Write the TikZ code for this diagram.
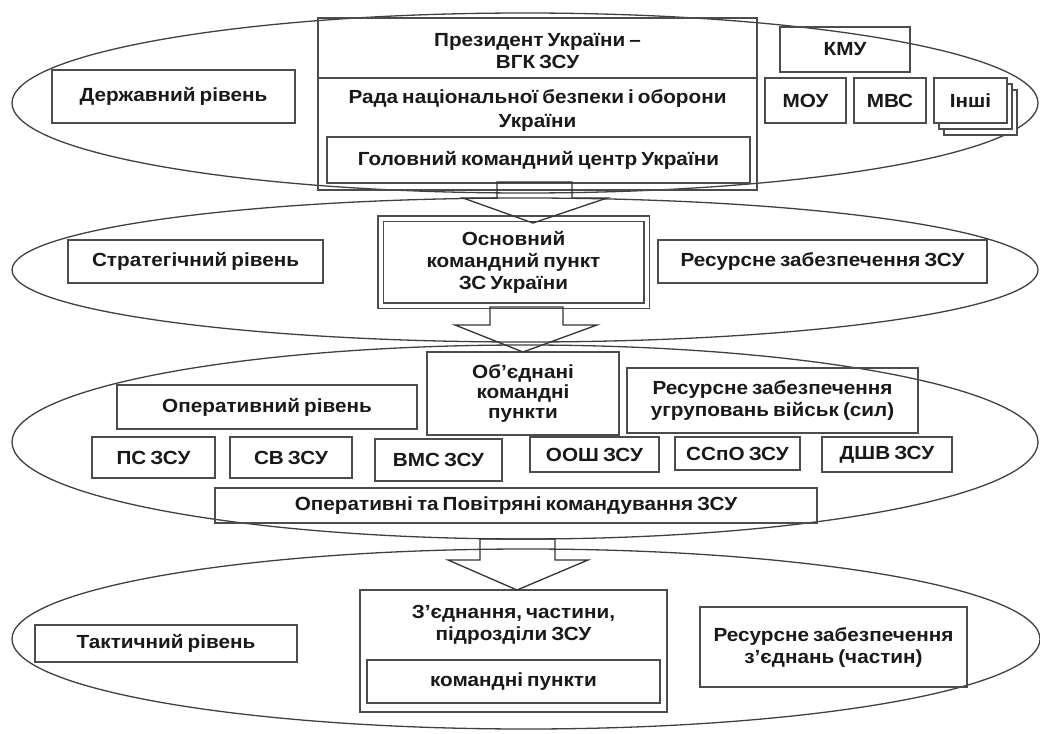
\documentclass[tikz,border=0pt]{standalone}
\usepackage{fontspec}
\setmainfont{Liberation Sans}[FakeStretch=1.09, WordSpace=0.7]
\usetikzlibrary{shadows}

\tikzset{
  level/.style={draw=black!75, line width=1.3pt},
  box/.style={draw=black!70, line width=1.7pt, align=center, inner sep=2pt,
    font=\fontsize{19}{22}\selectfont\bfseries, text=black!90},
  boxtext/.style={align=center, inner sep=0pt, font=\fontsize{19}{24}\selectfont\bfseries, text=black!90},
  flow/.style={draw=black!80, line width=1.3pt, line join=miter},
}

\begin{document}
\begin{tikzpicture}[x=1pt, y=-1pt]
\useasboundingbox (0,0) rectangle (1040,733);

% levels
\draw [level] (525,103) ellipse [x radius=513, y radius=90];
\draw [level] (525,270) ellipse [x radius=513, y radius=72];
\draw [level] (525,442) ellipse [x radius=513, y radius=97];
\draw [level] (526,639) ellipse [x radius=514, y radius=90];

% state level
\node [box, minimum width=243, minimum height=53] (derzh) at (173.5,96.5) {Державний рівень};
\node [box, minimum width=439, minimum height=60] (prez) at (537.5,48) {};
\node [boxtext] (preztext) at ([yshift=-3pt]prez.center) {Президент України –\\[-2pt]ВГК ЗСУ};
\node [box, minimum width=439, minimum height=112] (rada) at (537.5,134) {};
\node [boxtext, anchor=north] (radatext) at ([yshift=-12pt]rada.north) {Рада національної безпеки і оборони\\України};
\node [box, minimum width=423, minimum height=46] (gkc) at (538.5,160) {Головний командний центр України};
\node [box, minimum width=130, minimum height=45] (kmu) at (845,49.5) {КМУ};
\node [box, minimum width=81, minimum height=45] (mou) at (805.5,100.5) {МОУ};
\node [box, minimum width=72, minimum height=45] (mvs) at (890,100.5) {МВС};
\node [box, fill=white, minimum width=73, minimum height=45,
  double copy shadow={shadow xshift=5pt, shadow yshift=-6pt, draw=black!70, line width=1.2pt, fill=white}]
  (inshi) at (970.5,100.5) {Інші};

% strategic level
\node [box, minimum width=255, minimum height=43] (strat) at (195.5,261.5) {Стратегічний рівень};
\node [box, double, double distance=4pt, line width=1.1pt, minimum width=266, minimum height=87] (okp) at (513.5,262) {Основний\\командний пункт\\ЗС України};
\node [box, minimum width=329, minimum height=43] (resurs) at (822.5,261.5) {Ресурсне забезпечення ЗСУ};

% operational level
\node [box, font=\fontsize{19}{20}\selectfont\bfseries, minimum width=192, minimum height=83] (obkp) at (523,393.5) {Об’єднані\\командні\\пункти};
\node [box, minimum width=300, minimum height=44] (oper) at (267,407) {Оперативний рівень};
\node [box, minimum width=291, minimum height=65] (resugr) at (772.5,400.5) {Ресурсне забезпечення\\угруповань військ (сил)};
\node [box, minimum width=123, minimum height=41] (ps) at (153.5,457.5) {ПС ЗСУ};
\node [box, minimum width=122, minimum height=41] (sv) at (291,457.5) {СВ ЗСУ};
\node [box, minimum width=127, minimum height=42] (vms) at (438.5,460) {ВМС ЗСУ};
\node [box, minimum width=129, minimum height=35] (oosh) at (594.5,454.5) {ООШ ЗСУ};
\node [box, minimum width=125, minimum height=33] (sspo) at (737.5,453.5) {ССпО ЗСУ};
\node [box, minimum width=130, minimum height=35] (dshv) at (887,454.5) {ДШВ ЗСУ};
\node [box, minimum width=602, minimum height=35] (opkom) at (516,505.5) {Оперативні та Повітряні командування ЗСУ};

% tactical level
\node [box, minimum width=262, minimum height=37] (takt) at (166,643.5) {Тактичний рівень};
\node [box, minimum width=307, minimum height=122] (zed) at (513.5,651) {};
\node [boxtext, anchor=north] (zedtext) at ([yshift=-16pt]zed.north) {З’єднання, частини,\\[-2pt]підрозділи ЗСУ};
\node [box, minimum width=293, minimum height=43] (kp) at (513.5,681.5) {командні пункти};
\node [box, minimum width=267, minimum height=80] (reszed) at (833.5,647) {Ресурсне забезпечення\\з’єднань (частин)};

% block arrows between levels
\draw [flow] (497,182) -- (572,182) -- (572,198) -- (607,198) -- (533,223) -- (463,198) -- (497,198) -- cycle;
\draw [flow] (490,307) -- (563,307) -- (563,325) -- (597,325) -- (523,352) -- (455,325) -- (490,325) -- cycle;
\draw [flow] (480,539) -- (555,539) -- (555,560) -- (588,560) -- (517,590) -- (448,560) -- (480,560) -- cycle;

\end{tikzpicture}
\end{document}
